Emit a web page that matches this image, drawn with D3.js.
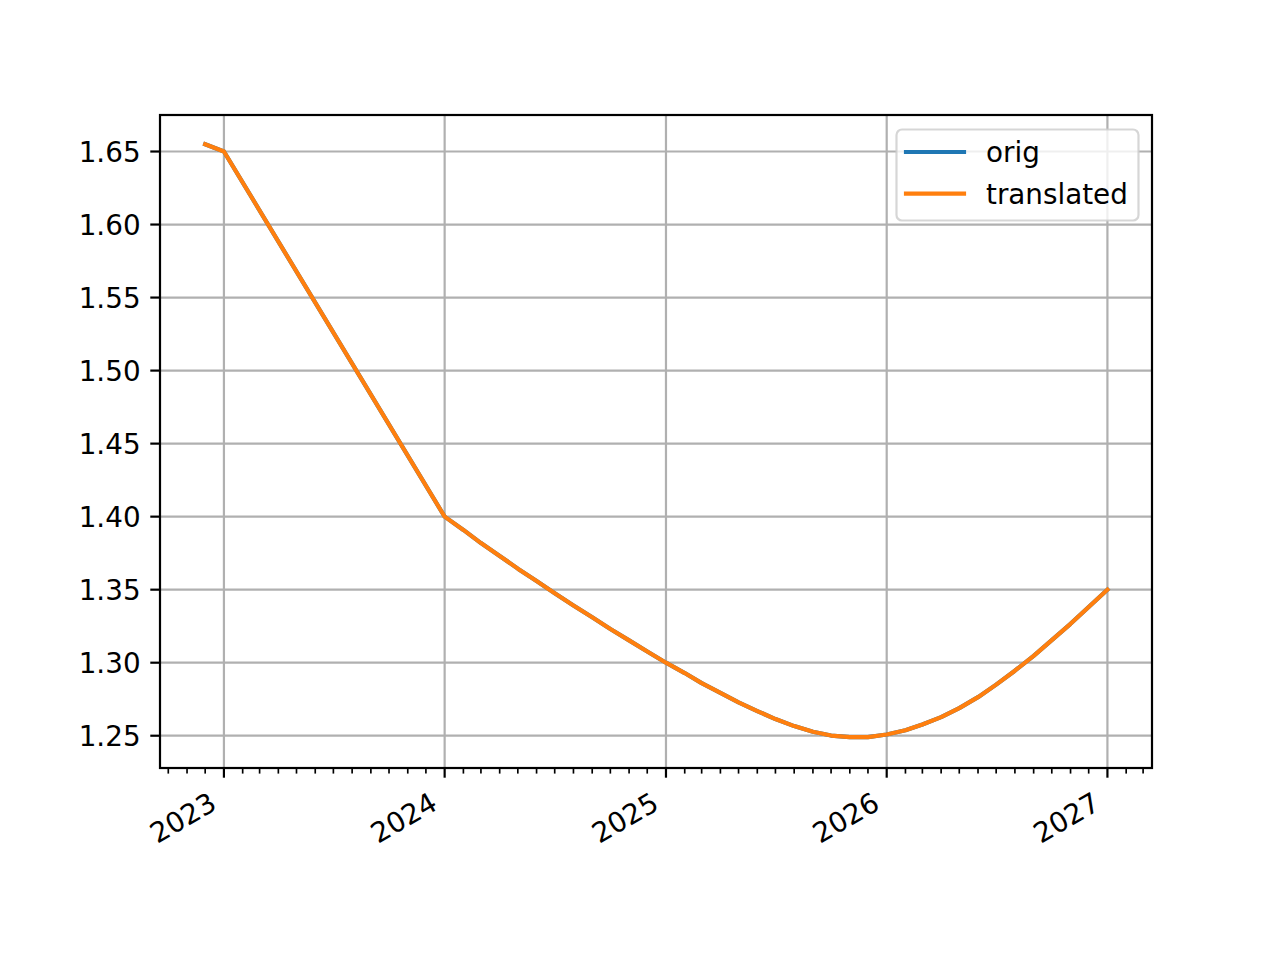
<!DOCTYPE html>
<html>
<head>
<meta charset="utf-8">
<script src="https://cdn.jsdelivr.net/npm/d3@7"></script>
<style>
  html, body { margin: 0; padding: 0; background: #ffffff; }
  svg { display: block; font-family: "DejaVu Sans", sans-serif; }
</style>
</head>
<body>
<svg id="chart" width="1280" height="960"></svg>
<script>
// ---- data ----
const dates = [
  "2022-12-01", "2023-01-01", "2024-01-01",
  "2024-02-01", "2024-03-01", "2024-04-01", "2024-05-01", "2024-06-01", "2024-07-01",
  "2024-08-01", "2024-09-01", "2024-10-01", "2024-11-01", "2024-12-01",
  "2025-01-01", "2025-02-01", "2025-03-01", "2025-04-01", "2025-05-01", "2025-06-01",
  "2025-07-01", "2025-08-01", "2025-09-01", "2025-10-01", "2025-11-01", "2025-12-01",
  "2026-01-01", "2026-02-01", "2026-03-01", "2026-04-01", "2026-05-01", "2026-06-01",
  "2026-07-01", "2026-08-01", "2026-09-01", "2026-10-01", "2026-11-01", "2026-12-01",
  "2027-01-01"
];
const origValues = [
  1.655, 1.650, 1.400,
  1.3909, 1.3819, 1.3731, 1.3644, 1.3559, 1.3475,
  1.3392, 1.3311, 1.3231, 1.3153, 1.3076,
  1.3000, 1.2929, 1.2860, 1.2793, 1.2729, 1.2669,
  1.2614, 1.2566, 1.2527, 1.2501, 1.2490, 1.2490,
  1.2508, 1.2538, 1.2577, 1.2627, 1.2689, 1.2764,
  1.2850, 1.2945, 1.3047, 1.3154, 1.3266, 1.3382,
  1.3500
];
const translatedValues = [
  1.655, 1.650, 1.400,
  1.3909, 1.3819, 1.3731, 1.3644, 1.3559, 1.3475,
  1.3392, 1.3311, 1.3231, 1.3153, 1.3076,
  1.3000, 1.2929, 1.2860, 1.2793, 1.2729, 1.2669,
  1.2614, 1.2566, 1.2527, 1.2501, 1.2490, 1.2490,
  1.2508, 1.2538, 1.2577, 1.2627, 1.2689, 1.2764,
  1.2850, 1.2945, 1.3047, 1.3154, 1.3266, 1.3382,
  1.3500
];
const seriesNames = ["orig", "translated"];
const yTickValues = [1.25, 1.30, 1.35, 1.40, 1.45, 1.50, 1.55, 1.60, 1.65];
const xTickYears = ["2023", "2024", "2025", "2026", "2027"];

// ---- layout ----
const plotLeft = 160, plotRight = 1152, plotTop = 115, plotBottom = 768;
const fontSize = 27.8;
const colors = ["#1f77b4", "#ff7f0e"];

const svg = d3.select("#chart");
const parse = d3.utcParse("%Y-%m-%d");
const xDates = dates.map(parse);

const x = d3.scaleUtc()
  .domain([new Date(Date.UTC(2022, 8, 17, 7)), new Date(Date.UTC(2027, 2, 15, 17))])
  .range([plotLeft, plotRight]);
const y = d3.scaleLinear().domain([1.2279, 1.6750]).range([plotBottom, plotTop]);

// grid
const grid = svg.append("g");
const majorDates = xTickYears.map(s => parse(s + "-01-01"));
grid.selectAll("line.vx").data(majorDates).enter().append("line")
  .attr("x1", d => x(d)).attr("x2", d => x(d))
  .attr("y1", plotTop).attr("y2", plotBottom)
  .attr("stroke", "#b0b0b0").attr("stroke-width", 2.2);
grid.selectAll("line.hy").data(yTickValues).enter().append("line")
  .attr("x1", plotLeft).attr("x2", plotRight)
  .attr("y1", d => y(d)).attr("y2", d => y(d))
  .attr("stroke", "#b0b0b0").attr("stroke-width", 2.2);

// lines
const series = [origValues, translatedValues];
const line = d3.line().x((d, i) => x(xDates[i])).y(d => y(d));
series.forEach((vals, k) => {
  svg.append("path")
    .attr("d", line(vals))
    .attr("fill", "none")
    .attr("stroke", colors[k])
    .attr("stroke-width", 4.17)
    .attr("stroke-linejoin", "round")
    .attr("stroke-linecap", "square");
});

// spines
svg.append("rect")
  .attr("x", plotLeft).attr("y", plotTop)
  .attr("width", plotRight - plotLeft).attr("height", plotBottom - plotTop)
  .attr("fill", "none").attr("stroke", "#000").attr("stroke-width", 2.2);

// x ticks
const minorDates = d3.utcMonth.range(x.domain()[0], x.domain()[1])
  .filter(d => d.getUTCMonth() !== 0);
svg.selectAll("line.minor").data(minorDates).enter().append("line")
  .attr("x1", d => x(d)).attr("x2", d => x(d))
  .attr("y1", plotBottom).attr("y2", plotBottom + 5.6)
  .attr("stroke", "#000").attr("stroke-width", 1.67);
svg.selectAll("line.major").data(majorDates).enter().append("line")
  .attr("x1", d => x(d)).attr("x2", d => x(d))
  .attr("y1", plotBottom).attr("y2", plotBottom + 9.7)
  .attr("stroke", "#000").attr("stroke-width", 2.2);
svg.selectAll("text.xl").data(majorDates).enter().append("text")
  .attr("transform", d => `translate(${x(d) - 5.5},${808.5}) rotate(-30)`)
  .attr("text-anchor", "end")
  .attr("font-size", fontSize)
  .attr("fill", "#000")
  .text(d => d3.utcFormat("%Y")(d));

// y ticks
svg.selectAll("line.yt").data(yTickValues).enter().append("line")
  .attr("x1", plotLeft - 9.7).attr("x2", plotLeft)
  .attr("y1", d => y(d)).attr("y2", d => y(d))
  .attr("stroke", "#000").attr("stroke-width", 2.2);
svg.selectAll("text.yl").data(yTickValues).enter().append("text")
  .attr("x", plotLeft - 9.7 - 9.7)
  .attr("y", d => y(d))
  .attr("dy", "0.36em")
  .attr("text-anchor", "end")
  .attr("font-size", fontSize)
  .attr("fill", "#000")
  .text(d => d3.format(".2f")(d));

// legend
const lg = svg.append("g");
lg.append("rect")
  .attr("x", 896.5).attr("y", 129.5).attr("width", 242).attr("height", 91)
  .attr("rx", 5.5).attr("ry", 5.5)
  .attr("fill", "#ffffff").attr("fill-opacity", 0.8)
  .attr("stroke", "#cccccc").attr("stroke-opacity", 0.8).attr("stroke-width", 2.2);
seriesNames.forEach((name, k) => {
  const cy = 152 + k * 41.7;
  lg.append("line")
    .attr("x1", 906).attr("x2", 964)
    .attr("y1", cy).attr("y2", cy)
    .attr("stroke", colors[k]).attr("stroke-width", 4.17)
    .attr("stroke-linecap", "square");
  lg.append("text")
    .attr("x", 986).attr("y", cy).attr("dy", "0.36em")
    .attr("font-size", fontSize).attr("fill", "#000")
    .text(name);
});
</script>
</body>
</html>
